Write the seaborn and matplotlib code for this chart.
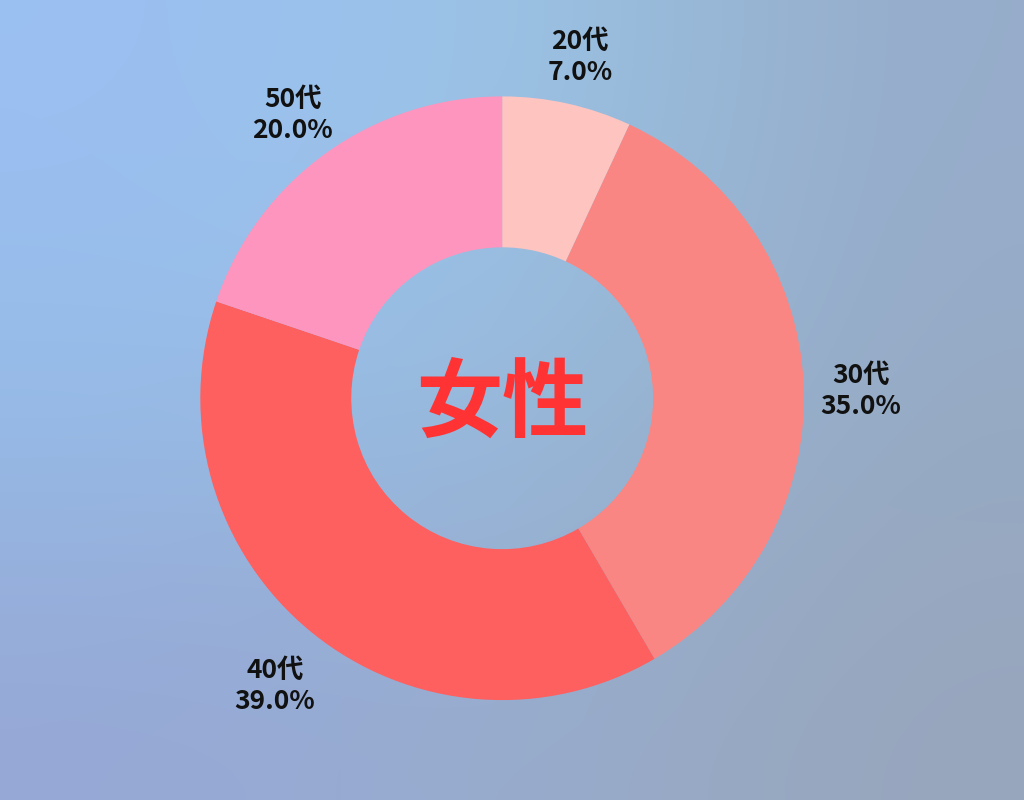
import numpy as np
import matplotlib
matplotlib.use("Agg")
import matplotlib.pyplot as plt
import seaborn as sns

# data
ages = ["20代", "30代", "40代", "50代"]
shares = [7.0, 35.0, 39.0, 20.0]
center_label = "女性"
slice_colors = ["#FDC4C0", "#F98683", "#FE5F5F", "#FE95BE"]

sns.set_theme(style="white")
plt.rcParams["font.family"] = ["Noto Sans CJK JP", "DejaVu Sans"]

fig = plt.figure(figsize=(10.24, 8), dpi=100)

# soft blue background gradient
bg = fig.add_axes([0, 0, 1, 1])
grid = np.array([
    [[155, 191, 242], [155, 198, 230], [150, 172, 202]],
    [[150, 189, 232], [152, 188, 222], [150, 170, 196]],
    [[150, 168, 214], [152, 172, 205], [152, 166, 188]],
]) / 255.0
bg.imshow(grid, extent=[0, 1, 0, 1], aspect="auto", interpolation="bicubic")
bg.set_axis_off()

ax = fig.add_axes([0.1069, 0.0117, 0.767, 0.981])
ax.patch.set_alpha(0)
labels = [f"{a}\n{s:.1f}%" for a, s in zip(ages, shares)]
wedges, texts = ax.pie(
    shares,
    labels=labels,
    colors=sns.color_palette(slice_colors),
    startangle=90,
    counterclock=False,
    labeldistance=1.19,
    wedgeprops=dict(width=0.5, linewidth=0),
    textprops=dict(fontsize=19, fontweight="bold", color="#111111", linespacing=1.2),
)
for t in texts:
    t.set_horizontalalignment("center")
    t.set_verticalalignment("center")
    x, y = t.get_position()
    t.set_position((x, y - 0.03))

ax.text(0, -0.02, center_label, ha="center", va="center", fontsize=62,
        fontweight="bold", color="#FF3333")
ax.set_xlim(-1.3, 1.3)
ax.set_ylim(-1.3, 1.3)
ax.set_aspect("equal")
ax.set_axis_off()

fig.savefig("out.png", dpi=100)
